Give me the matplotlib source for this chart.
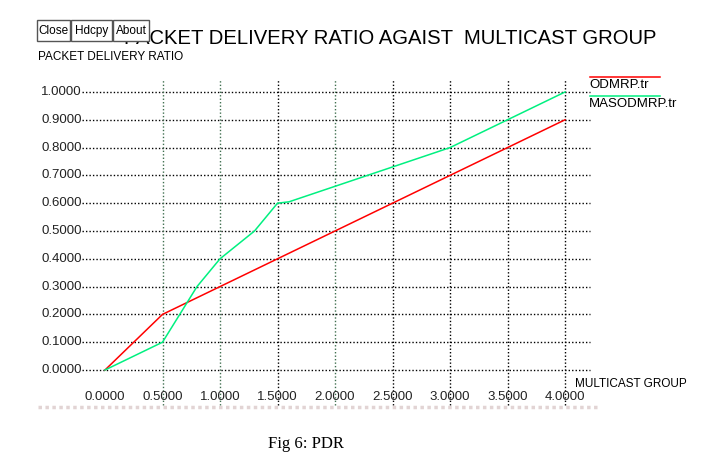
import matplotlib.pyplot as plt
from matplotlib.patches import Rectangle

# data
group = [0.0, 0.5, 1.0, 1.5, 2.0, 2.5, 3.0, 3.5, 4.0]
odmrp = [0.0, 0.2, 0.3, 0.4, 0.5, 0.6, 0.7, 0.8, 0.9]
group_mas = [0.0, 0.5, 0.8, 1.0, 1.3, 1.5, 1.6, 3.0, 4.0]
masodmrp = [0.0, 0.1, 0.3, 0.4, 0.5, 0.6, 0.605, 0.8, 1.0]

xticks = [0.0, 0.5, 1.0, 1.5, 2.0, 2.5, 3.0, 3.5, 4.0]
yticks = [0.0, 0.1, 0.2, 0.3, 0.4, 0.5, 0.6, 0.7, 0.8, 0.9, 1.0]
buttons = ["Close", "Hdcpy", "About"]

W, H = 720, 468
sans = ['Liberation Sans', 'DejaVu Sans']

fig = plt.figure(figsize=(W / 100, H / 100), dpi=100)
ax = fig.add_axes([0, 0, 1, 1])
# pixel mapping: x=0 -> 105px, 115px/unit ; y=0 -> 370px from top, 278px/unit
ax.set_xlim(-105 / 115, (W - 105) / 115)
ax.set_ylim((370 - H) / 278, 370 / 278)
ax.axis('off')

# grid
for y in yticks:
    ax.plot([-0.2, 4.22], [y, y], color='black', lw=1, ls=(0, (1, 1.5)))
vcol = ['#3f6f4f', '#3f6f4f', 'black', '#3f6f4f', 'black', 'black', 'black', 'black']
for x, c in zip(xticks[1:], vcol):
    ax.plot([x, x], [-0.126, 1.043], color=c, lw=1, ls=(0, (1, 1.5)))

# tick labels
for y in yticks:
    ax.text(-0.2, y, "%.4f" % y, ha='right', va='center', fontsize=9.5,
            family=sans, color='#222222')
for x in xticks:
    ax.text(x, -0.097, "%.4f" % x, ha='center', va='center', fontsize=9.5,
            family=sans, color='#222222')

# series
ax.plot(group, odmrp, color='#ff0000', lw=1.1)
ax.plot(group_mas, masodmrp, color='#00f080', lw=1.1)

# legend
fig.add_artist(plt.Line2D([590 / W, 660 / W], [1 - 77 / H, 1 - 77 / H], color='#ff0000', lw=1.1))
fig.add_artist(plt.Line2D([590 / W, 660 / W], [1 - 96 / H, 1 - 96 / H], color='#00f080', lw=1.1))
fig.text(589 / W, 1 - 85 / H, "ODMRP.tr", ha='left', va='center', fontsize=9.5, family=sans)
fig.text(589 / W, 1 - 104 / H, "MASODMRP.tr", ha='left', va='center', fontsize=9.5, family=sans)

# labels
fig.text(124 / W, 1 - 39 / H, "PACKET DELIVERY RATIO AGAIST  MULTICAST GROUP", ha='left',
         va='center', fontsize=14.6, family=sans)
fig.text(38 / W, 1 - 57 / H, "PACKET DELIVERY RATIO", ha='left', va='center',
         fontsize=8.5, family=sans)
fig.text(575 / W, 1 - 384 / H, "MULTICAST GROUP", ha='left', va='center',
         fontsize=8.5, family=sans)

# buttons on top of the title
bx = [37, 71, 113]
bw = [33, 41, 36]
for name, x0, w in zip(buttons, bx, bw):
    fig.add_artist(Rectangle((x0 / W, 1 - 41 / H), w / W, 21 / H, facecolor='white',
                             edgecolor='#555555', lw=1, zorder=5))
    fig.text((x0 + w / 2) / W, 1 - 31 / H, name, ha='center', va='center',
             fontsize=8.5, family=sans, zorder=6)

# scrollbar-like strip
fig.add_artist(plt.Line2D([38 / W, 598 / W], [1 - 407 / H, 1 - 407 / H],
                          color='#e2d4d4', lw=2.5, ls=(0, (1, 1))))

fig.text(268 / W, 1 - 444 / H, "Fig 6: PDR", ha='left', va='center', fontsize=12,
         family=['Liberation Serif', 'DejaVu Serif'])

fig.savefig("out.png", dpi=100)
